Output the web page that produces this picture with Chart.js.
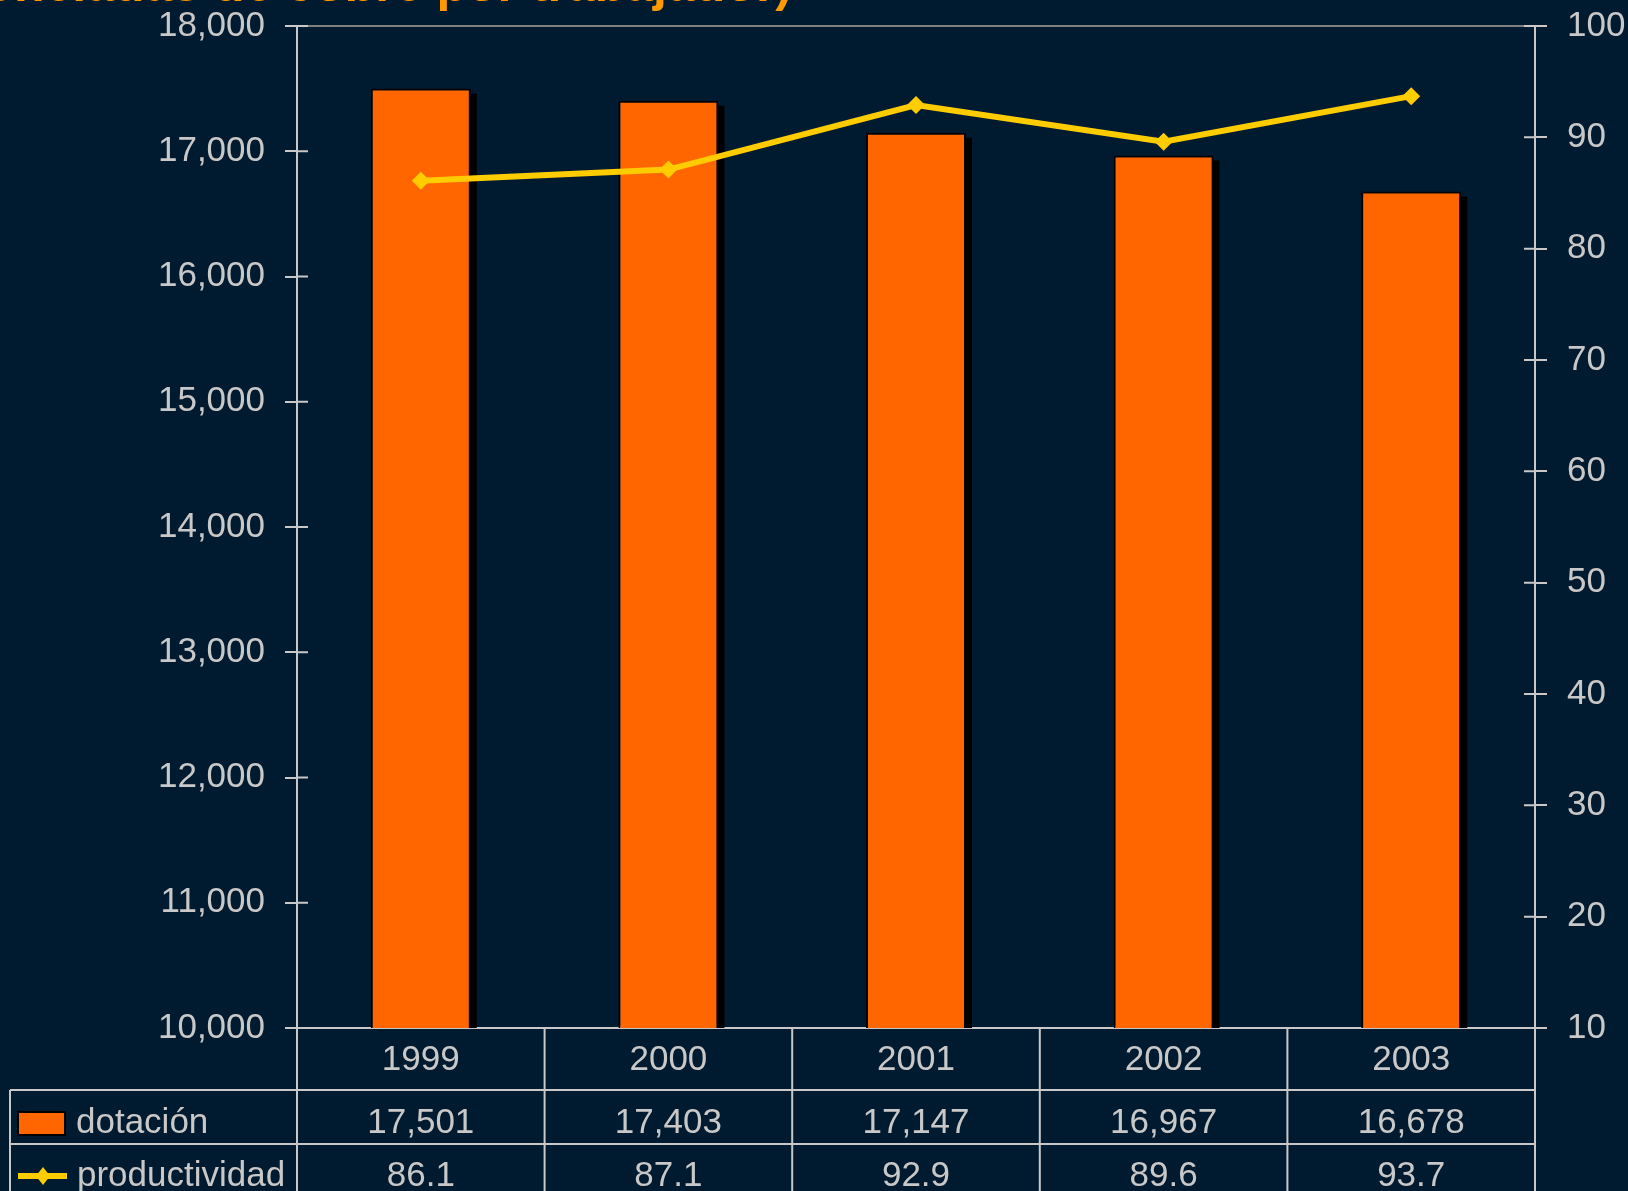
<!DOCTYPE html>
<html>
<head>
<meta charset="utf-8">
<script src="https://cdn.jsdelivr.net/npm/chart.js@4.4.0/dist/chart.umd.min.js"></script>
<style>
html, body { margin: 0; padding: 0; background: #001b2f; overflow: hidden; }
</style>
</head>
<body>
<canvas id="productividadChart" width="1628" height="1191"></canvas>
<script>
// datos
const years = ['1999', '2000', '2001', '2002', '2003'];
const dotacion = [17501, 17403, 17147, 16967, 16678];
const productividad = [86.1, 87.1, 92.9, 89.6, 93.7];
const seriesNames = ['dotación', 'productividad'];
const titleText = '(toneladas de cobre por trabajador)';

const fuente = '"Liberation Sans", Arial, sans-serif';
const gris = '#c8c8c8';

// sombra negra de las barras (se dibuja antes de las barras)
const sombraBarras = {
    id: 'sombraBarras',
    beforeDatasetDraw(chart, args) {
        if (args.meta.type !== 'bar') return;
        const c = chart.ctx;
        const ca = chart.chartArea;
        c.save();
        c.beginPath();
        c.rect(ca.left, ca.top, ca.right - ca.left, ca.bottom - ca.top);
        c.clip();
        c.fillStyle = '#000000';
        args.meta.data.forEach(bar => {
            const p = bar.getProps(['x', 'y', 'base', 'width'], true);
            c.fillRect(p.x - p.width / 2 + 6, p.y + 5, p.width, p.base - p.y);
        });
        c.restore();
    }
};

// fondo y titulo cortado arriba
const fondo = {
    id: 'fondo',
    beforeDraw(chart) {
        const c = chart.ctx;
        c.save();
        c.fillStyle = '#001b2f';
        c.fillRect(0, 0, chart.width, chart.height);
        c.font = 'bold 50px ' + fuente;
        c.fillStyle = '#ff9900';
        c.textAlign = 'right';
        c.textBaseline = 'alphabetic';
        c.fillText(titleText, 792, 1);
        c.restore();
    }
};

// tabla de datos bajo el grafico
const tablaDatos = {
    id: 'tablaDatos',
    afterDraw(chart) {
        const c = chart.ctx;
        const ca = chart.chartArea;
        const x = chart.scales.x;
        const w = (ca.right - ca.left) / years.length;
        const fila1 = 1090, fila2 = 1144, fondoY = chart.height;

        c.save();
        // borde superior gris
        c.strokeStyle = '#808080';
        c.lineWidth = 2;
        c.beginPath();
        c.moveTo(ca.left, ca.top);
        c.lineTo(ca.right, ca.top);
        c.stroke();

        // marcas hacia dentro de los ejes
        c.strokeStyle = gris;
        c.beginPath();
        chart.scales.y.ticks.forEach(t => {
            const py = chart.scales.y.getPixelForValue(t.value);
            c.moveTo(ca.left, py);
            c.lineTo(ca.left + 11, py);
        });
        chart.scales.y1.ticks.forEach(t => {
            const py = chart.scales.y1.getPixelForValue(t.value);
            c.moveTo(ca.right - 11, py);
            c.lineTo(ca.right, py);
        });
        c.stroke();

        // lineas de la tabla
        c.beginPath();
        c.moveTo(10, fila1); c.lineTo(ca.right, fila1);
        c.moveTo(10, fila2); c.lineTo(ca.right, fila2);
        c.moveTo(10, fila1); c.lineTo(10, fondoY);
        for (let i = 0; i <= years.length; i++) {
            const px = ca.left + i * w;
            c.moveTo(px, ca.bottom);
            c.lineTo(px, fondoY);
        }
        c.stroke();

        // textos
        c.font = '35px ' + fuente;
        c.fillStyle = gris;
        c.textAlign = 'center';
        c.textBaseline = 'alphabetic';
        years.forEach((y, i) => {
            const px = x.getPixelForValue(i);
            c.fillText(y, px, 1070);
            c.fillText(dotacion[i].toLocaleString('en-US'), px, 1133);
            c.fillText(productividad[i].toFixed(1), px, 1186);
        });
        c.textAlign = 'left';
        c.fillText(seriesNames[0], 76, 1133);
        c.fillText(seriesNames[1], 77, 1186);

        // claves de leyenda
        c.fillStyle = '#ff6600';
        c.fillRect(18, 1112, 47, 23);
        c.strokeStyle = '#000000';
        c.lineWidth = 2;
        c.strokeRect(18, 1112, 47, 23);

        c.strokeStyle = '#ffcc00';
        c.lineWidth = 6;
        c.beginPath();
        c.moveTo(18, 1176); c.lineTo(67, 1176);
        c.stroke();
        c.fillStyle = '#ffcc00';
        c.beginPath();
        c.moveTo(43, 1167); c.lineTo(50, 1176); c.lineTo(43, 1185); c.lineTo(36, 1176);
        c.closePath();
        c.fill();
        c.restore();
    }
};

const ctx = document.getElementById('productividadChart').getContext('2d');

new Chart(ctx, {
    type: 'bar',
    data: {
        labels: years,
        datasets: [
            {
                type: 'line',
                label: seriesNames[1],
                data: productividad,
                yAxisID: 'y1',
                borderColor: '#ffcc00',
                backgroundColor: '#ffcc00',
                borderWidth: 6,
                pointStyle: 'rectRot',
                pointRadius: 9,
                pointBackgroundColor: '#ffcc00',
                pointBorderColor: '#ffcc00',
                pointBorderWidth: 0,
                tension: 0,
                order: 1
            },
            {
                type: 'bar',
                label: seriesNames[0],
                data: dotacion,
                yAxisID: 'y',
                backgroundColor: '#ff6600',
                borderColor: '#000000',
                borderWidth: 2,
                barPercentage: 0.404,
                categoryPercentage: 1,
                order: 2
            }
        ]
    },
    options: {
        responsive: false,
        devicePixelRatio: 1,
        animation: false,
        layout: { padding: { top: 26, left: 0, right: 0, bottom: 0 } },
        plugins: {
            legend: { display: false },
            tooltip: { enabled: false },
            title: { display: false }
        },
        scales: {
            x: {
                ticks: { display: false },
                grid: { display: false },
                border: { display: true, color: gris, width: 2 },
                afterFit(s) { s.height = 163; s.paddingLeft = 0; s.paddingRight = 0; }
            },
            y: {
                position: 'left',
                min: 10000,
                max: 18000,
                ticks: {
                    stepSize: 1000,
                    color: gris,
                    font: { family: fuente, size: 35 },
                    padding: 20,
                    callback: v => v.toLocaleString('en-US')
                },
                grid: { drawOnChartArea: false, drawTicks: true, tickLength: 12, color: gris, lineWidth: 2 },
                border: { display: true, color: gris, width: 2 },
                afterFit(s) { s.width = 297; s.paddingTop = 0; s.paddingBottom = 0; }
            },
            y1: {
                position: 'right',
                min: 10,
                max: 100,
                ticks: {
                    stepSize: 10,
                    color: gris,
                    font: { family: fuente, size: 35 },
                    padding: 20
                },
                grid: { drawOnChartArea: false, drawTicks: true, tickLength: 12, color: gris, lineWidth: 2 },
                border: { display: true, color: gris, width: 2 },
                afterFit(s) { s.width = 93; s.paddingTop = 0; s.paddingBottom = 0; }
            }
        }
    },
    plugins: [fondo, sombraBarras, tablaDatos]
});
</script>
</body>
</html>
